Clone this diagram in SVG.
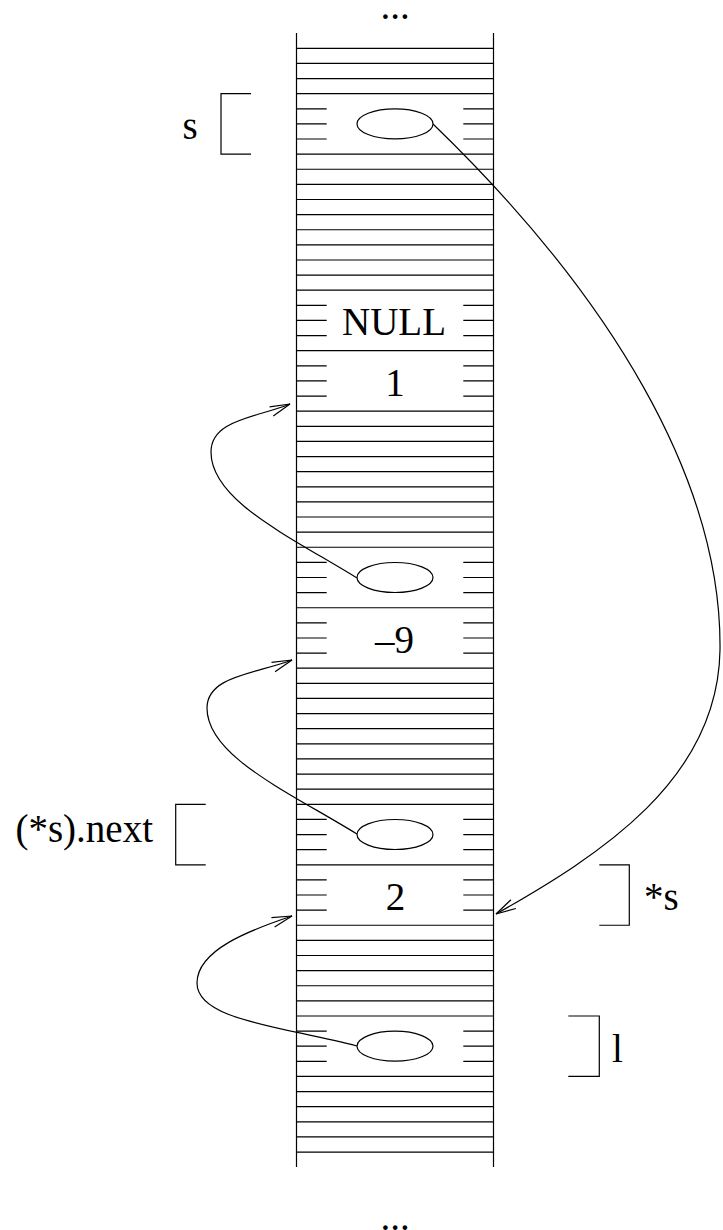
<svg xmlns="http://www.w3.org/2000/svg" width="723" height="1230" viewBox="0 0 723 1230">
<style>
.ln{stroke:#000;stroke-width:1.2;fill:none}
.t{font-family:"Liberation Serif","Times New Roman",serif;font-size:39px;fill:#000}
.c{text-anchor:middle}
.el{fill:#fff;stroke:#000;stroke-width:1.2}
.con{fill:none;stroke:#000;stroke-width:1.2}
</style>
<defs>
<marker id="ah" markerUnits="userSpaceOnUse" markerWidth="24" markerHeight="14" viewBox="-22 -7 24 14" refX="0" refY="0" orient="auto" overflow="visible">
<path d="M-20,-5 L0,0 L-20,5" fill="none" stroke="#000" stroke-width="1.2"/>
</marker>
</defs>
<rect width="723" height="1230" fill="#fff"/>
<g id="memory">
<path class="ln" d="M296.5,33V1167M493.5,33V1167"/>
<path class="ln" d="M296.5,48.3H493.5M296.5,63.42H493.5M296.5,78.54H493.5M296.5,93.66H493.5M296.5,154.14H493.5M296.5,169.26H493.5M296.5,184.38H493.5M296.5,199.5H493.5M296.5,214.62H493.5M296.5,229.74H493.5M296.5,244.86H493.5M296.5,259.98H493.5M296.5,275.1H493.5M296.5,290.22H493.5M296.5,350.7H493.5M296.5,411.18H493.5M296.5,426.3H493.5M296.5,441.42H493.5M296.5,456.54H493.5M296.5,471.66H493.5M296.5,486.78H493.5M296.5,501.9H493.5M296.5,517.02H493.5M296.5,532.14H493.5M296.5,547.26H493.5M296.5,607.74H493.5M296.5,668.22H493.5M296.5,683.34H493.5M296.5,698.46H493.5M296.5,713.58H493.5M296.5,728.7H493.5M296.5,743.82H493.5M296.5,758.94H493.5M296.5,774.06H493.5M296.5,789.18H493.5M296.5,804.3H493.5M296.5,864.78H493.5M296.5,925.26H493.5M296.5,940.38H493.5M296.5,955.5H493.5M296.5,970.62H493.5M296.5,985.74H493.5M296.5,1000.86H493.5M296.5,1015.98H493.5M296.5,1076.46H493.5M296.5,1091.58H493.5M296.5,1106.7H493.5M296.5,1121.82H493.5M296.5,1136.94H493.5M296.5,1152.06H493.5"/>
<path class="ln" d="M296.5,108.78H326.7M296.5,123.9H326.7M296.5,139.02H326.7M463.3,108.78H493.5M463.3,123.9H493.5M463.3,139.02H493.5
M296.5,305.34H326.7M296.5,320.46H326.7M296.5,335.58H326.7M463.3,305.34H493.5M463.3,320.46H493.5M463.3,335.58H493.5
M296.5,365.82H326.7M296.5,380.94H326.7M296.5,396.06H326.7M463.3,365.82H493.5M463.3,380.94H493.5M463.3,396.06H493.5
M296.5,562.38H326.7M296.5,577.5H326.7M296.5,592.62H326.7M463.3,562.38H493.5M463.3,577.5H493.5M463.3,592.62H493.5
M296.5,622.86H326.7M296.5,637.98H326.7M296.5,653.1H326.7M463.3,622.86H493.5M463.3,637.98H493.5M463.3,653.1H493.5
M296.5,819.42H326.7M296.5,834.54H326.7M296.5,849.66H326.7M463.3,819.42H493.5M463.3,834.54H493.5M463.3,849.66H493.5
M296.5,879.9H326.7M296.5,895.02H326.7M296.5,910.14H326.7M463.3,879.9H493.5M463.3,895.02H493.5M463.3,910.14H493.5
M296.5,1031.1H326.7M296.5,1046.22H326.7M296.5,1061.34H326.7M463.3,1031.1H493.5M463.3,1046.22H493.5M463.3,1061.34H493.5"/>
<text class="t c" x="395" y="18.5">...</text>
<text class="t c" x="395" y="1229.5">...</text>
</g>
<g id="connectors">
<path class="con" marker-end="url(#ah)" d="M433,124 C610,295 722,480 720,650 C718,780 600,855 496,914"/>
<path class="con" marker-end="url(#ah)" d="M357,578 C287,535 211,500 211,452 C211,420 255,418 290,404"/>
<path class="con" marker-end="url(#ah)" d="M357,834 C287,791 207,756 207,708 C207,676 255,674 292,660"/>
<path class="con" marker-end="url(#ah)" d="M357,1046 C280,1026 197,1020 197,983 C197,950 250,930 292,916"/>
</g>
<g id="cell-s">
<ellipse class="el" cx="395" cy="123.9" rx="38" ry="15"/>
</g>
<g id="cell-null">
<text class="t c" x="394" y="335">NULL</text>
</g>
<g id="cell-1">
<text class="t c" x="395" y="396">1</text>
</g>
<g id="cell-ptr1">
<ellipse class="el" cx="395" cy="577.5" rx="38" ry="15"/>
</g>
<g id="cell-m9">
<text class="t c" x="394.5" y="653">–9</text>
</g>
<g id="cell-next">
<ellipse class="el" cx="395" cy="834.5" rx="38" ry="15"/>
</g>
<g id="cell-2">
<text class="t c" x="395.5" y="910">2</text>
</g>
<g id="cell-l">
<ellipse class="el" cx="395" cy="1046.2" rx="38" ry="15"/>
</g>
<g id="label-s">
<path class="ln" d="M251,93.66H221V154.14H251"/>
<text class="t c" x="190" y="139">s</text>
</g>
<g id="label-next">
<path class="ln" d="M205.7,804.3H175.7V864.78H205.7"/>
<text class="t" x="153" y="842" text-anchor="end">(*s).next</text>
</g>
<g id="label-star-s">
<path class="ln" d="M599.3,864.78H629.3V925.26H599.3"/>
<text class="t" x="644" y="910">*s</text>
</g>
<g id="label-l">
<path class="ln" d="M568.3,1015.98H599.3V1076.46H568.3"/>
<text class="t" x="612" y="1062">l</text>
</g>
</svg>
